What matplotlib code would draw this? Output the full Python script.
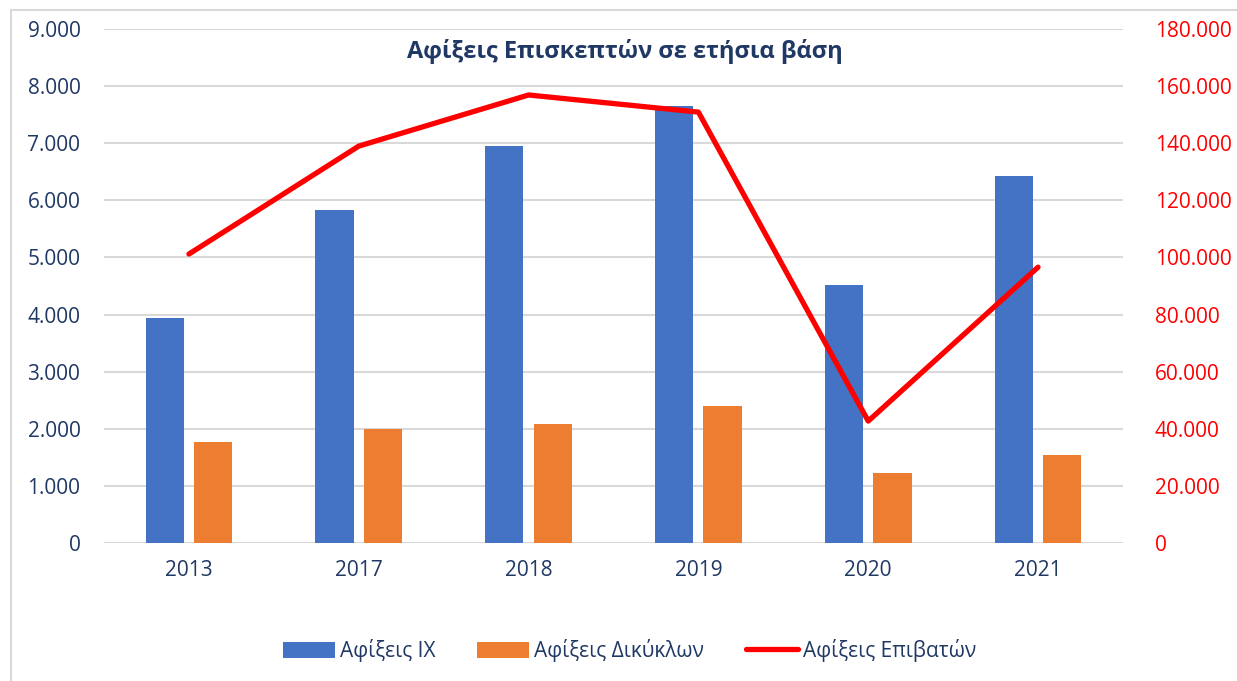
import numpy as np
import matplotlib
matplotlib.use("Agg")
import matplotlib.pyplot as plt
from matplotlib.patches import Rectangle
from matplotlib.ticker import FuncFormatter

plt.rcParams['font.family'] = ['Open Sans', 'Noto Sans', 'DejaVu Sans']

# data
years = ['2013', '2017', '2018', '2019', '2020', '2021']
cars = [3940, 5830, 6955, 7645, 4525, 6425]
bikes = [1770, 2005, 2085, 2405, 1228, 1545]
passengers = [101200, 139000, 156900, 150900, 42700, 96600]

navy = '#203864'
red = '#FF0000'
grid_c = '#D9D9D9'

def dot_fmt(v, pos):
    return f"{int(round(v)):,}".replace(',', '.')

fig = plt.figure(figsize=(12.37, 6.81), dpi=100)
ax = fig.add_axes([0.0841, 0.2026, 0.8237, 0.7548])
ax2 = ax.twinx()

x = np.arange(len(years))
w = 0.225
gap = 0.06
ax.bar(x - (w + gap) / 2, cars, w, color='#4472C4', label='Αφίξεις ΙΧ', zorder=3)
ax.bar(x + (w + gap) / 2, bikes, w, color='#ED7D31', label='Αφίξεις Δικύκλων', zorder=3)
ax2.plot(x, passengers, color=red, lw=3.8, solid_capstyle='round', label='Αφίξεις Επιβατών')

ax.set_xlim(-0.5, len(years) - 0.5)
ax.set_ylim(0, 9000)
ax.set_yticks(np.arange(0, 9001, 1000))
ax2.set_ylim(0, 180000)
ax2.set_yticks(np.arange(0, 180001, 20000))
ax.yaxis.set_major_formatter(FuncFormatter(dot_fmt))
ax2.yaxis.set_major_formatter(FuncFormatter(dot_fmt))
ax.set_xticks(x)
ax.set_xticklabels(years)

ax.grid(axis='y', color=grid_c, lw=1.5, zorder=0)
ax.set_axisbelow(True)
for a in (ax, ax2):
    for s in a.spines.values():
        s.set_visible(False)
ax.tick_params(axis='y', length=0, pad=17, labelsize=15, labelcolor=navy)
ax.tick_params(axis='x', length=0, pad=12, labelsize=15, labelcolor=navy)
ax2.tick_params(axis='y', length=0, pad=23, labelsize=15, labelcolor=red)

fig.text(0.505, 0.924, 'Αφίξεις Επισκεπτών σε ετήσια βάση', ha='center', va='center',
         fontsize=17, fontweight='bold', color=navy)

h1, l1 = ax.get_legend_handles_labels()
h2, l2 = ax2.get_legend_handles_labels()
leg = fig.legend(h1 + h2, l1 + l2, loc='center', bbox_to_anchor=(0.509, 0.045), ncol=3,
                 frameon=False, fontsize=15, handlelength=2.5, handleheight=0.8,
                 columnspacing=2.0, handletextpad=0.25)
for t in leg.get_texts():
    t.set_color(navy)

fig.patches.append(Rectangle((11 / 1237, -0.1), 1.2, 1 - 10 / 681 + 0.1,
                             transform=fig.transFigure, fill=False,
                             edgecolor=grid_c, lw=1.5))

fig.savefig('out.png', dpi=100)
